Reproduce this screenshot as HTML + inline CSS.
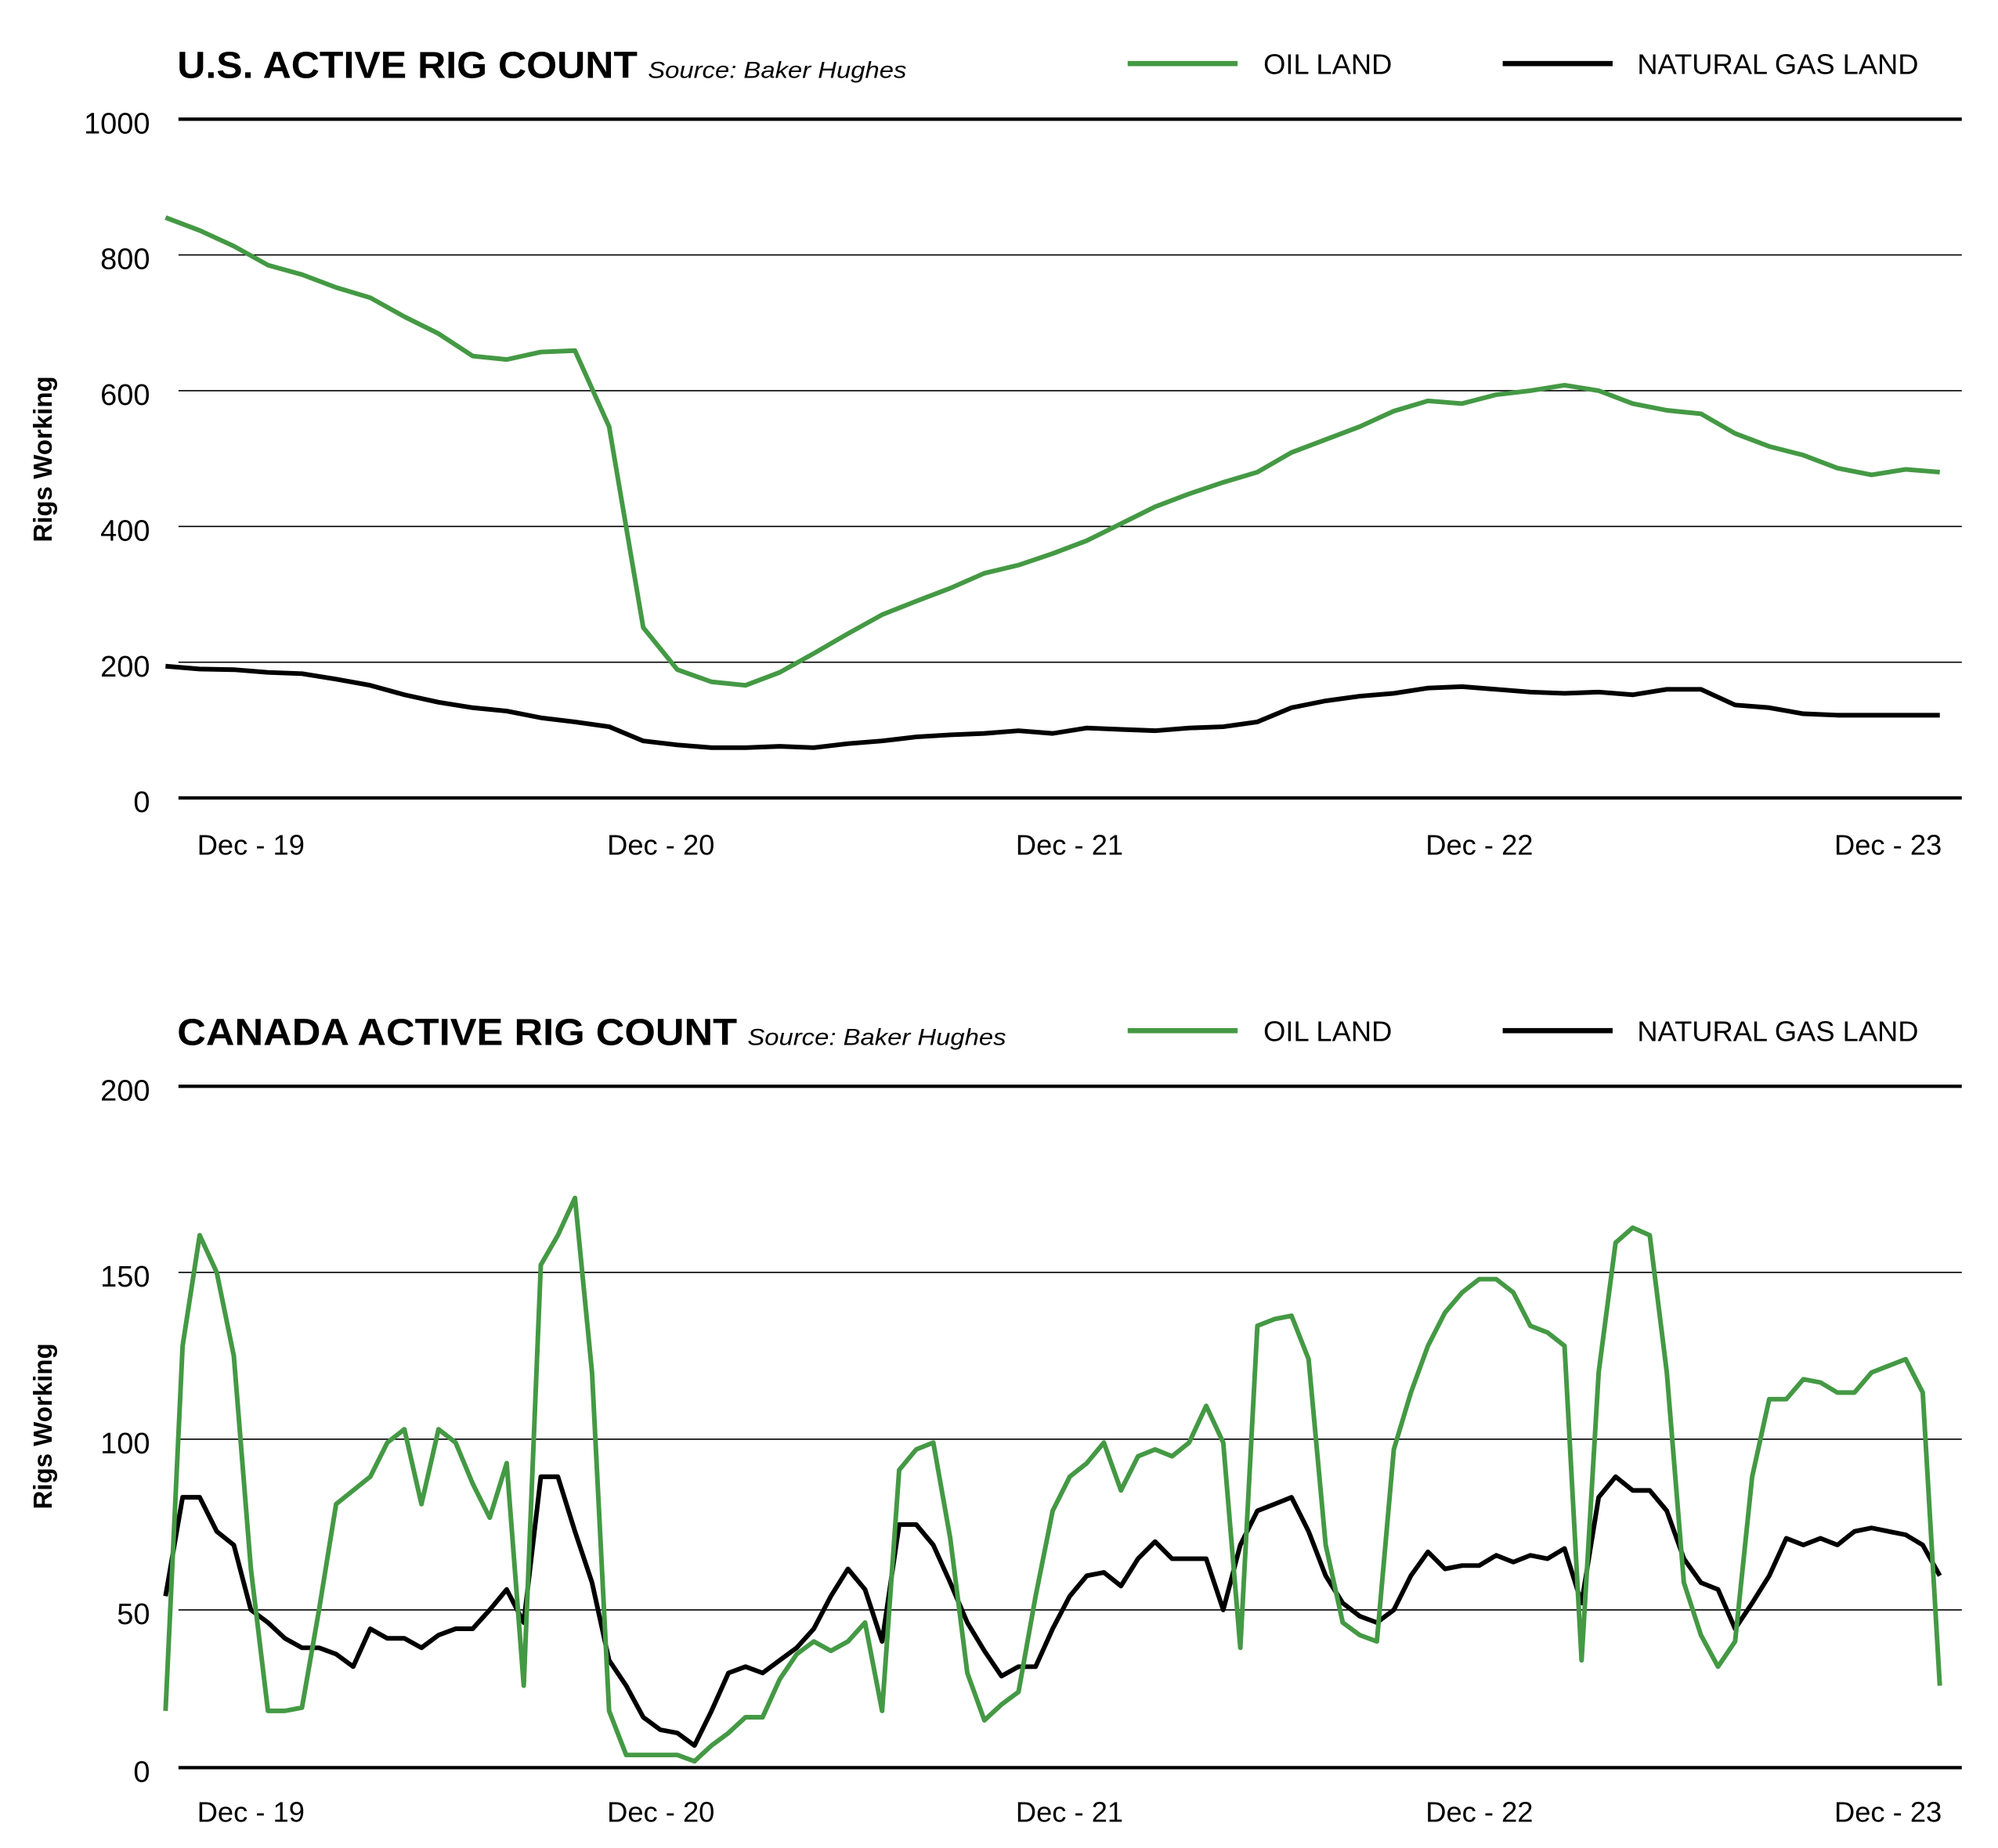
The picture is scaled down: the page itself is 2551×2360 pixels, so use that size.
<!DOCTYPE html>
<html><head><meta charset="utf-8"><style>
html,body{margin:0;padding:0;background:#fff;}
svg{display:block;font-family:"Liberation Sans",sans-serif;}
</style></head><body>
<svg id="chart" width="2551" height="2360" viewBox="0 0 1545 1429" xmlns="http://www.w3.org/2000/svg">
<rect width="1545" height="1429" fill="#fff"/>
<g id="us"></g>
<g id="ca"></g>
</svg>
<script>
const xLabels = ["Dec - 19","Dec - 20","Dec - 21","Dec - 22","Dec - 23"];
const usTicks = [0,200,400,600,800,1000];
const usOil = [855,836,813,785,771,752,737,709,684,651,646,657,659,547,251,189,171,166,185,213,242,270,290,309,331,343,360,379,404,429,448,465,480,509,528,547,570,585,581,594,600,608,600,581,571,566,537,518,505,486,476,484,480];
const usGas = [194,190,189,185,183,175,166,152,141,133,128,118,112,105,84,78,74,74,76,74,80,84,90,93,95,99,95,103,101,99,103,105,112,133,143,150,154,162,164,160,156,154,156,152,160,160,137,133,124,122,122,122,122];
const caTicks = [0,50,100,150,200];
const caOil = [18,128,160,150,125,62,18,18,19,50,81,85,89,99,103,81,103,99,87,77,93,26,152,160,170,120,18,4,4,4,4,2,7,11,16,16,28,36,40,37,40,46,18,91,97,99,71,30,15,20,24,54,79,89,93,99,85,95,97,95,99,110,99,38,134,136,137,124,69,46,42,40,97,114,128,138,144,148,148,144,134,132,128,34,120,158,162,160,120,58,42,32,40,89,112,112,118,117,114,114,120,122,124,114,26];
const caGas = [54,83,83,73,69,50,46,41,38,38,36,32,44,41,41,38,42,44,44,50,56,46,89,89,73,58,34,26,16,12,11,7,18,30,32,30,34,38,44,54,62,56,40,75,75,69,58,46,37,29,32,32,44,54,60,61,57,65,70,65,65,65,50,69,79,81,83,73,60,52,48,46,50,60,67,62,63,63,66,64,66,65,68,52,83,89,85,85,79,65,58,56,44,52,60,71,69,71,69,73,74,73,72,69,60];

const NS = "http://www.w3.org/2000/svg";
function mk(parent, tag, attrs){ const e=document.createElementNS(NS,tag); for(const k in attrs) e.setAttribute(k,attrs[k]); parent.appendChild(e); return e; }

function drawChart(g, o){
  const X0=128, X1=1500;
  const yScale = v => { const t=o.ticks, p=o.tickPos; for(let i=0;i<t.length-1;i++){ if(v<=t[i+1]||i===t.length-2){ return p[i]+(v-t[i])/(t[i+1]-t[i])*(p[i+1]-p[i]); } } };
  const xScale = (i,n) => X0 + i*(X1-X0)/(n-1);
  o.ticks.forEach((t,k)=>{
    const y=yScale(t); const edge=(k===0||k===o.ticks.length-1);
    const l=mk(g,'line',{x1:138,x2:1517,y1:y,y2:y,stroke:'#000','stroke-width':edge?2.6:1});
    
    
    const tx=mk(g,'text',{x:116,y:y+11,'text-anchor':'end','font-size':23,fill:'#000'});
    tx.textContent=t;
    
    
  });
  const xc=[194,511,827,1144,1460];
  xLabels.forEach((s,k)=>{
    const tx=mk(g,'text',{x:xc[k],y:o.xLabY,'text-anchor':'middle','font-size':22,fill:'#000'});
    tx.textContent=s;
    
    
  });
  const yt=mk(g,'text',{x:0,y:0,'text-anchor':'middle','font-size':20,'font-weight':'bold',fill:'#000',transform:`translate(40,${o.yTitleY}) rotate(-90)`});
  yt.textContent='Rigs Working';
  
  
  const tt=mk(g,'text',{x:137,y:o.titleY,'font-size':29,'font-weight':'bold',fill:'#000',textLength:o.titleW,lengthAdjust:'spacingAndGlyphs'});
  tt.textContent=o.title;
  
  
  const st=mk(g,'text',{x:o.srcX,y:o.titleY,'font-size':18,'font-style':'italic',fill:'#000',textLength:200,lengthAdjust:'spacingAndGlyphs'});
  st.textContent='Source: Baker Hughes';
  
  
  const ly=o.titleY-11;
  const l1=mk(g,'line',{x1:872,x2:957,y1:ly,y2:ly,stroke:'#449944','stroke-width':4});
  
  
  const t1=mk(g,'text',{x:977,y:ly+8,'font-size':22,fill:'#000'}); t1.textContent='OIL LAND';
  
  
  const l2=mk(g,'line',{x1:1162,x2:1247,y1:ly,y2:ly,stroke:'#000','stroke-width':4});
  
  
  const t2=mk(g,'text',{x:1266,y:ly+8,'font-size':22,fill:'#000'}); t2.textContent='NATURAL GAS LAND';
  
  
  [[o.gas,'#000','gas-line'],[o.oil,'#449944','oil-line']].forEach(([arr,c,name])=>{
    const d=arr.map((v,i)=>(i?'L':'M')+xScale(i,arr.length).toFixed(1)+','+yScale(v).toFixed(1)).join(' ');
    const p=mk(g,'path',{d:d,fill:'none',stroke:c,'stroke-width':3.6,'stroke-linejoin':'round'});
    
    
  });
}
drawChart(document.getElementById('us'),{ticks:usTicks,tickPos:[617,512,407,302,197,92],oil:usOil,gas:usGas,xLabY:661,yTitleY:355,titleY:60,title:'U.S. ACTIVE RIG COUNT',titleW:356,srcX:501});
drawChart(document.getElementById('ca'),{ticks:caTicks,tickPos:[1367,1245,1113,984,840],oil:caOil,gas:caGas,xLabY:1409,yTitleY:1103,titleY:808,title:'CANADA ACTIVE RIG COUNT',titleW:433,srcX:578});
</script>
</body></html>
